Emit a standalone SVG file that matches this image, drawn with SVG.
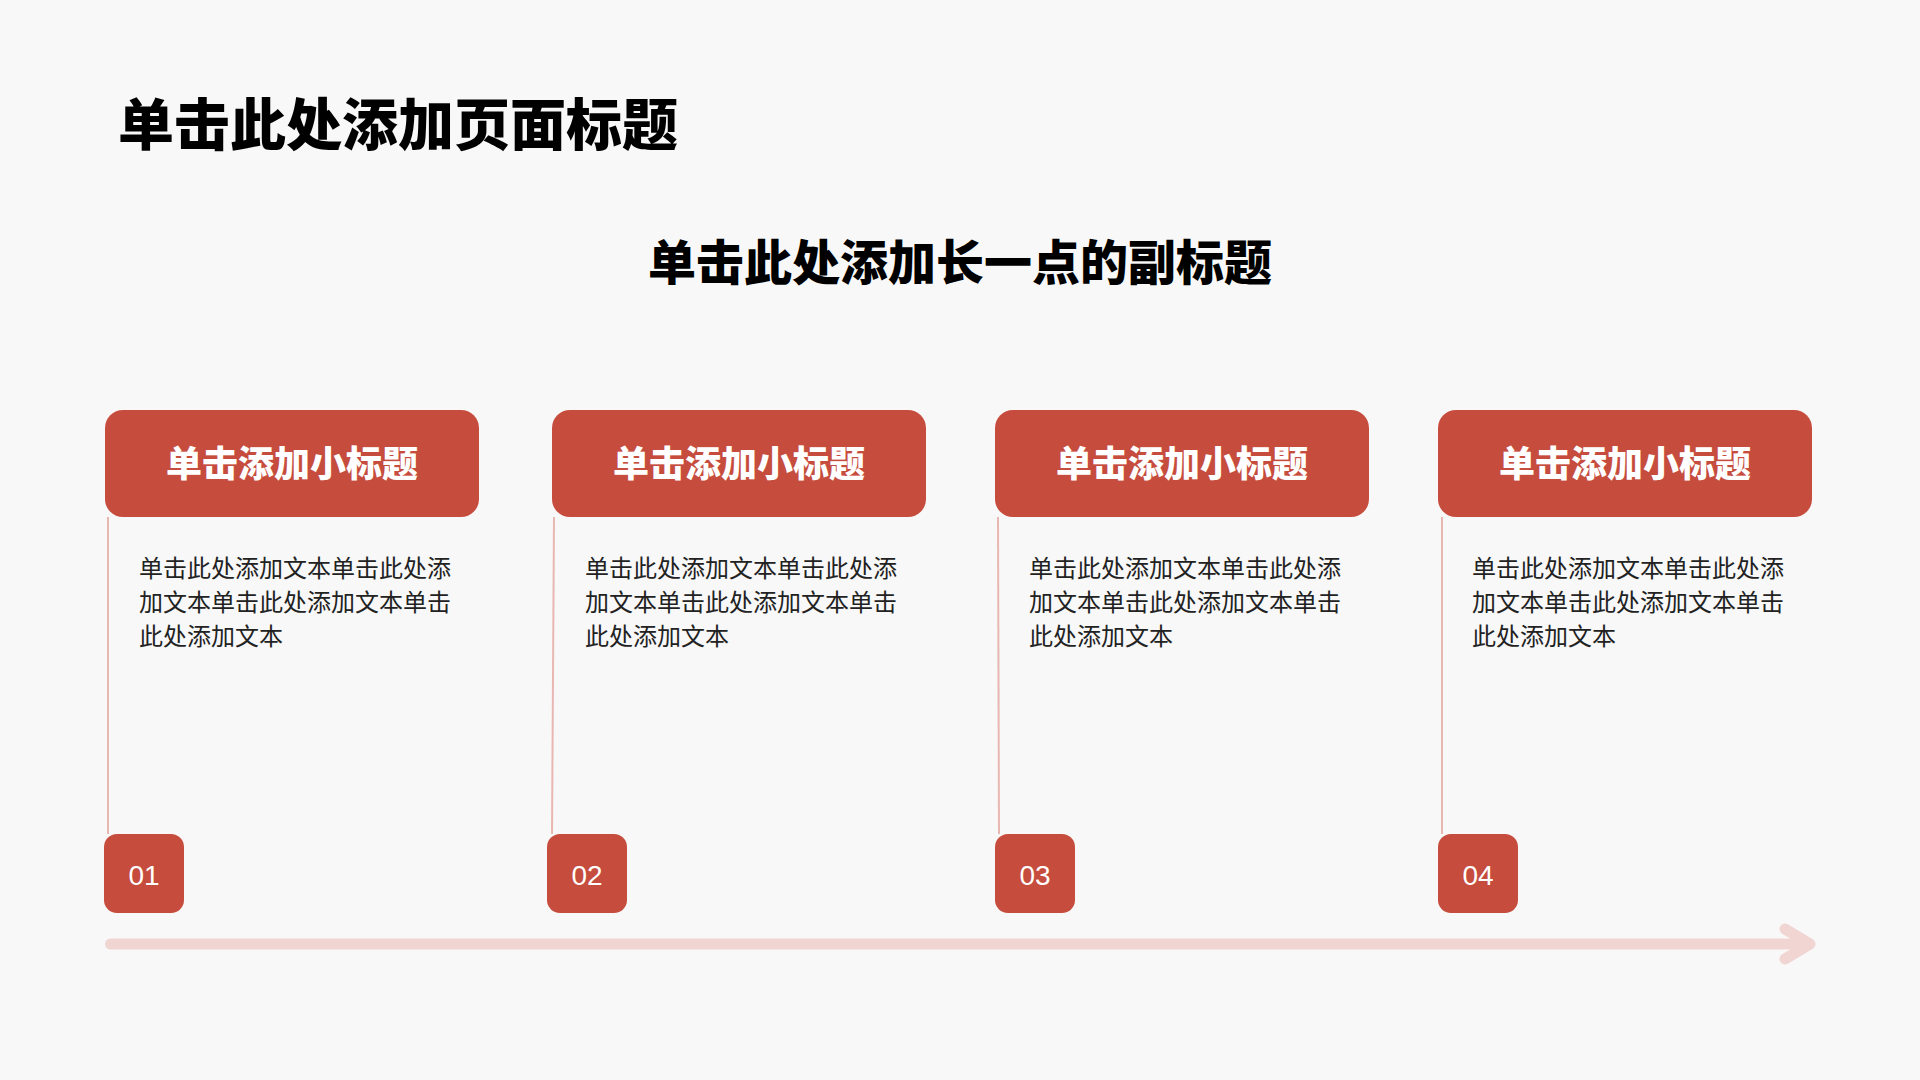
<svg xmlns="http://www.w3.org/2000/svg" width="1920" height="1080" viewBox="0 0 1920 1080">
<style>
.cjk{font-family:"Noto Sans CJK SC","Noto Sans",sans-serif}
.title{font-size:56px;font-weight:900;fill:#000}
.sub{font-size:48px;font-weight:900;fill:#000}
.hbox{fill:#c64c3d}
.htxt{font-size:36px;font-weight:900;fill:#fff}
.body{font-size:24px;fill:#222}
.vline{stroke:#e9b7b2;stroke-width:2;fill:none}
.num{font-family:"Liberation Sans",Arial,sans-serif;font-size:28px;fill:#fff}
.arrow{stroke:#f0d5d3;stroke-width:11;stroke-linecap:round;stroke-linejoin:round;fill:none}
</style>
<rect width="1920" height="1080" fill="#f8f8f8"/>
<text class="cjk title" x="118" y="145">单击此处添加页面标题</text>
<text class="cjk sub" x="960" y="280" text-anchor="middle">单击此处添加长一点的副标题</text>
<g id="connectors">
<line class="vline" x1="108" y1="517" x2="108" y2="834"/>
<line class="vline" x1="554" y1="517" x2="552" y2="834"/>
<line class="vline" x1="998" y1="517" x2="999" y2="834"/>
<line class="vline" x1="1442" y1="517" x2="1442" y2="834"/>
<line class="arrow" x1="110.5" y1="944" x2="1809" y2="944"/>
<polyline class="arrow" points="1785,929 1810,944 1785,959"/>
</g>
<g id="node1">
<rect class="hbox" x="105" y="410" width="374" height="107" rx="18"/>
<text class="cjk htxt" x="292" y="477" text-anchor="middle">单击添加小标题</text>
<text class="cjk body" x="139" y="577">单击此处添加文本单击此处添</text>
<text class="cjk body" x="139" y="611">加文本单击此处添加文本单击</text>
<text class="cjk body" x="139" y="645">此处添加文本</text>
<rect class="hbox" x="104" y="834" width="80" height="79" rx="13"/>
<text class="num" x="144" y="885" text-anchor="middle">01</text>
</g>
<g id="node2">
<rect class="hbox" x="552" y="410" width="374" height="107" rx="18"/>
<text class="cjk htxt" x="739" y="477" text-anchor="middle">单击添加小标题</text>
<text class="cjk body" x="585" y="577">单击此处添加文本单击此处添</text>
<text class="cjk body" x="585" y="611">加文本单击此处添加文本单击</text>
<text class="cjk body" x="585" y="645">此处添加文本</text>
<rect class="hbox" x="547" y="834" width="80" height="79" rx="13"/>
<text class="num" x="587" y="885" text-anchor="middle">02</text>
</g>
<g id="node3">
<rect class="hbox" x="995" y="410" width="374" height="107" rx="18"/>
<text class="cjk htxt" x="1182" y="477" text-anchor="middle">单击添加小标题</text>
<text class="cjk body" x="1029" y="577">单击此处添加文本单击此处添</text>
<text class="cjk body" x="1029" y="611">加文本单击此处添加文本单击</text>
<text class="cjk body" x="1029" y="645">此处添加文本</text>
<rect class="hbox" x="995" y="834" width="80" height="79" rx="13"/>
<text class="num" x="1035" y="885" text-anchor="middle">03</text>
</g>
<g id="node4">
<rect class="hbox" x="1438" y="410" width="374" height="107" rx="18"/>
<text class="cjk htxt" x="1625" y="477" text-anchor="middle">单击添加小标题</text>
<text class="cjk body" x="1472" y="577">单击此处添加文本单击此处添</text>
<text class="cjk body" x="1472" y="611">加文本单击此处添加文本单击</text>
<text class="cjk body" x="1472" y="645">此处添加文本</text>
<rect class="hbox" x="1438" y="834" width="80" height="79" rx="13"/>
<text class="num" x="1478" y="885" text-anchor="middle">04</text>
</g>
</svg>
